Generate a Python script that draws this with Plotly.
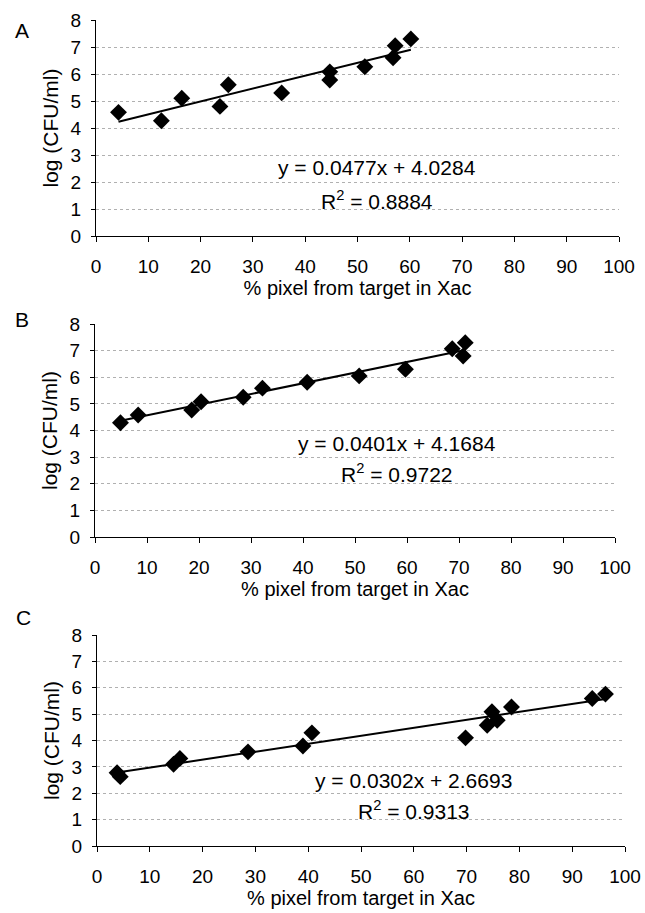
import plotly.graph_objects as go

# Panel A
a_x = [4.3, 12.5, 16.4, 23.7, 25.3, 35.5, 44.7, 44.7, 51.4, 56.8, 57.2, 60.2]
a_y = [4.58, 4.27, 5.1, 4.8, 5.6, 5.3, 6.08, 5.78, 6.27, 6.6, 7.05, 7.3]
a_slope, a_int = 0.0477, 4.0284
a_eq = ["y = 0.0477x + 4.0284", "R<sup>2</sup> = 0.8884"]

# Panel B
b_x = [4.9, 8.3, 18.6, 20.4, 28.5, 32.2, 40.8, 50.8, 59.7, 68.7, 70.8, 71.2]
b_y = [4.29, 4.58, 4.77, 5.08, 5.25, 5.59, 5.81, 6.05, 6.3, 7.07, 6.8, 7.3]
b_slope, b_int = 0.0401, 4.1684
b_eq = ["y = 0.0401x + 4.1684", "R<sup>2</sup> = 0.9722"]

# Panel C
c_x = [3.8, 4.4, 14.5, 15.7, 28.6, 39.0, 40.7, 69.8, 73.9, 74.8, 75.8, 78.5, 93.8, 96.3]
c_y = [2.78, 2.63, 3.1, 3.32, 3.57, 3.79, 4.29, 4.1, 4.58, 5.09, 4.77, 5.27, 5.59, 5.76]
c_slope, c_int = 0.0302, 2.6693
c_eq = ["y = 0.0302x + 2.6693", "R<sup>2</sup> = 0.9313"]

x_ticks = [0, 10, 20, 30, 40, 50, 60, 70, 80, 90, 100]
y_ticks = [0, 1, 2, 3, 4, 5, 6, 7, 8]
x_title = "% pixel from target in Xac"
y_title = "log (CFU/ml)"
panel_labels = ["A", "B", "C"]

W, H = 645, 913
FONT = "Liberation Sans, Arial, sans-serif"

panels = [
    (a_x, a_y, a_slope, a_int, a_eq, (96, 619), (20, 236), (53.7, 2.55, 1.33)),
    (b_x, b_y, b_slope, b_int, b_eq, (95, 615), (324, 537), (58.0, 3.53, 2.40)),
    (c_x, c_y, c_slope, c_int, c_eq, (97, 625), (635, 846), (60.0, 2.50, 1.36)),
]
label_pos = [(22, 30), (22, 319), (23, 617)]

fig = go.Figure()
annotations = []
layout = {}
for i, (xs, ys, m, b, eq, (xl, xr), (yt, yb), (ex, ey1, ey2)) in enumerate(panels):
    suf = "" if i == 0 else str(i + 1)
    xa, ya = "x" + suf, "y" + suf
    fig.add_trace(go.Scatter(x=xs, y=ys, mode="markers", xaxis=xa, yaxis=ya,
                             marker=dict(symbol="diamond", size=13, color="black"),
                             showlegend=False, cliponaxis=False))
    x0, x1 = min(xs), max(xs)
    fig.add_trace(go.Scatter(x=[x0, x1], y=[m * x0 + b, m * x1 + b], mode="lines",
                             xaxis=xa, yaxis=ya, line=dict(color="black", width=2),
                             showlegend=False))
    layout["xaxis" + suf] = dict(
        domain=[xl / W, xr / W], anchor=ya, range=[0, 100], tickvals=x_ticks,
        automargin=False,
        showgrid=False, zeroline=False, showline=True, linecolor="black", linewidth=1.2,
        ticks="outside", ticklen=5, tickcolor="black", ticklabelstandoff=8,
        tickfont=dict(family=FONT, size=19, color="black"),
        title=dict(text=x_title, font=dict(family=FONT, size=20, color="black"), standoff=2),
        fixedrange=True)
    layout["yaxis" + suf] = dict(
        domain=[1 - yb / H, 1 - yt / H], anchor=xa, range=[0, 8], tickvals=y_ticks,
        automargin=False,
        showgrid=True, gridcolor="#b0b0b0", griddash="dot", gridwidth=1,
        zeroline=False, showline=True, linecolor="black", linewidth=1.2,
        ticks="outside", ticklen=4, tickcolor="black", ticklabelstandoff=6,
        tickfont=dict(family=FONT, size=19, color="black"),
        title=dict(text=y_title, font=dict(family=FONT, size=21, color="black"), standoff=6),
        fixedrange=True)
    for txt, yy in zip(eq, (ey1, ey2)):
        annotations.append(dict(x=ex, y=yy, xref=xa, yref=ya, text=txt, showarrow=False,
                                font=dict(family=FONT, size=21, color="black")))
    lx, ly = label_pos[i]
    annotations.append(dict(x=lx / W, y=1 - ly / H, xref="paper", yref="paper",
                            xanchor="center", yanchor="middle",
                            text=panel_labels[i], showarrow=False,
                            font=dict(family=FONT, size=21, color="black")))

fig.update_layout(width=W, height=H, margin=dict(l=0, r=0, t=0, b=0),
                  paper_bgcolor="white", plot_bgcolor="white",
                  annotations=annotations, **layout)
fig.write_html("out.html", config={"displayModeBar": False},
               post_script="document.body.style.margin='0';document.body.style.padding='0';")
